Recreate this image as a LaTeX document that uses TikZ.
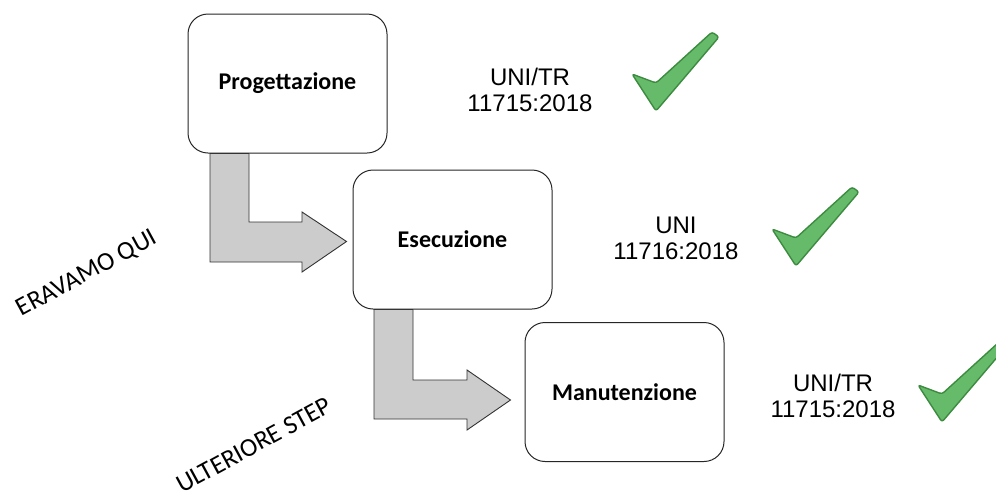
\documentclass[tikz,border=0pt]{standalone}
\usepackage{fontspec}
\setmainfont{Carlito}
\newfontfamily\gothic{Liberation Sans}
\usetikzlibrary{calc}
\definecolor{arrowgray}{HTML}{CCCCCC}
\definecolor{chkfill}{HTML}{66BB6A}
\definecolor{chkline}{HTML}{3D8B40}
\tikzset{
  stepbox/.style={draw=black!85, line width=1pt, rounded corners=20pt, fill=white,
    minimum width=199pt, minimum height=139pt, inner sep=0pt,
    font=\fontsize{24}{28}\selectfont\bfseries},
  blockarrow/.style={draw=black!80, line width=0.9pt, fill=arrowgray, line join=miter},
  normtext/.style={font=\gothic\fontsize{24}{26}\selectfont, align=center, inner sep=0pt},
  slanttext/.style={font=\fontsize{26}{30}\selectfont, rotate=28.5, inner sep=0pt},
  checkmark/.style={fill=chkfill, draw=chkline, line width=1.4pt, rounded corners=2.5pt, line join=round}
}
\begin{document}
\begin{tikzpicture}[x=1pt,y=-1pt]
\useasboundingbox (0,0) rectangle (996,496);
\clip (0,0) rectangle (996,496);
% boxes
\node[stepbox] (prog) at (287.5,83.5) {Progettazione};
\node[stepbox] (exec) at (452.5,239.5) {Esecuzione};
\node[stepbox] (manu) at (624.5,392) {Manutenzione};
% block arrows
\coordinate (t1) at ($(exec.west)+(-6,2)$);
\draw[blockarrow] (prog.south west -| 210,0) -- (249,0 |- prog.south) -- (249,222) -- (302,222) -- (302,212)
  -- (t1) -- (302,272) -- (302,262) -- (210,262) -- cycle;
\coordinate (t2) at ($(manu.west)+(-14,8)$);
\draw[blockarrow] (374,0 |- exec.south) -- (413,0 |- exec.south) -- (413,380) -- (467,380) -- (467,370)
  -- (t2) -- (467,430) -- (467,419) -- (374,419) -- cycle;
% standard labels
\node[normtext] (std1) at (530,90) {UNI/TR\\11715:2018};
\node[normtext] (std2) at (676,238) {UNI\\11716:2018};
\node[normtext] (std3) at (833,396) {UNI/TR\\11715:2018};
% slanted labels
\node[slanttext] (here) at (87,274) {ERAVAMO QUI};
\node[slanttext] (next) at (254,445) {ULTERIORE STEP};
% check marks
\foreach \dx/\dy [count=\i] in {0/0, 140/155, 286/311}{
  \begin{scope}[shift={(\dx,\dy)}]
    \draw[checkmark] (632,74) -- (656,83) -- (712,32) -- (719,37) -- (656,111) -- cycle;
  \end{scope}
}
\end{tikzpicture}
\end{document}
